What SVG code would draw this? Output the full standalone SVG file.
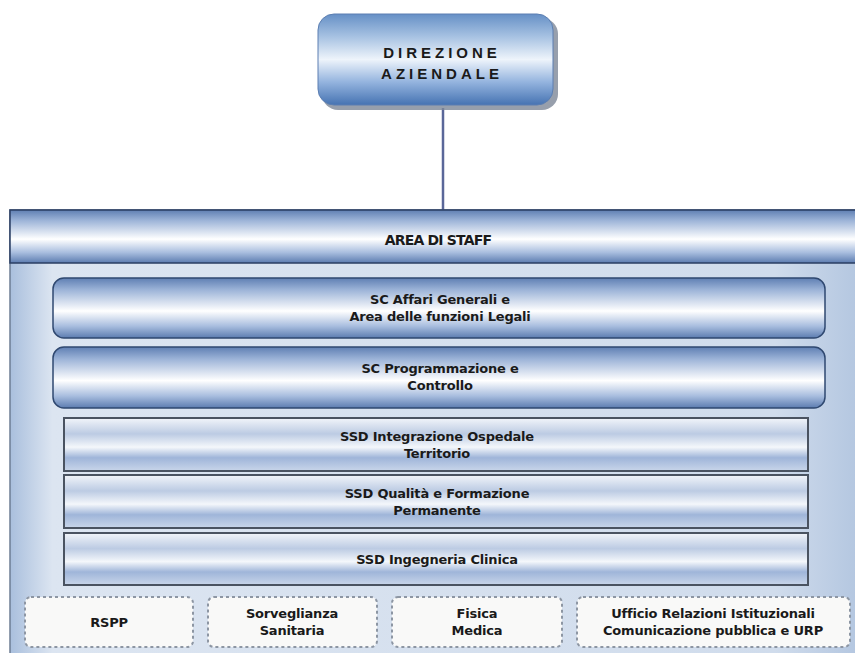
<svg xmlns="http://www.w3.org/2000/svg" width="855" height="653" viewBox="0 0 855 653">
<defs>
<linearGradient id="gShine" x1="0" y1="0" x2="0" y2="1">
<stop offset="0" stop-color="#5f7fb3"/>
<stop offset="0.2" stop-color="#9db4d8"/>
<stop offset="0.55" stop-color="#ffffff"/>
<stop offset="0.8" stop-color="#a9bedf"/>
<stop offset="1" stop-color="#5c7cb0"/>
</linearGradient>
<linearGradient id="gBand" x1="0" y1="0" x2="0" y2="1">
<stop offset="0" stop-color="#f2f5fa"/>
<stop offset="0.3" stop-color="#bccbe3"/>
<stop offset="0.55" stop-color="#f4f7fb"/>
<stop offset="0.75" stop-color="#9fb5d9"/>
<stop offset="1" stop-color="#c9d6ea"/>
</linearGradient>
<linearGradient id="gDir" x1="0" y1="0" x2="0" y2="1">
<stop offset="0" stop-color="#6690c6"/>
<stop offset="0.25" stop-color="#a7c2e2"/>
<stop offset="0.5" stop-color="#eef4fb"/>
<stop offset="0.75" stop-color="#93b3de"/>
<stop offset="1" stop-color="#4673b2"/>
</linearGradient>
<linearGradient id="gBody" x1="0" y1="0" x2="1" y2="0">
<stop offset="0" stop-color="#a9bfdd"/>
<stop offset="0.05" stop-color="#dce5f1"/>
<stop offset="0.9" stop-color="#d0dcec"/>
<stop offset="1" stop-color="#b3c6e0"/>
</linearGradient>
<style>
.t{font-family:"DejaVu Sans","Liberation Sans",Arial,sans-serif;font-weight:bold;fill:#1a1a1a;text-anchor:middle}
.s{font-size:13px;letter-spacing:-0.2px}
.dir{font-family:"Liberation Sans",Arial,sans-serif;font-size:15px;letter-spacing:4px}
.dash{fill:#f9f9f8;stroke:#8d96a3;stroke-width:2;stroke-dasharray:3 3}
.sq{stroke:#4a5361;stroke-width:2}
.rd{stroke:#2f4870;stroke-width:1.5}
</style>
</defs>
<g id="connectors">
<line x1="443" y1="108" x2="443" y2="210" stroke="#5a6799" stroke-width="2.5"/>
</g>
<g id="area-staff">
<rect x="10" y="210" width="850" height="450" fill="url(#gBody)" stroke="#6e7d94" stroke-width="1.5"/>
<rect x="10" y="210" width="850" height="53" fill="url(#gShine)" stroke="#2a3e63" stroke-width="1.5"/>
<text class="t" x="438" y="245" font-family="Liberation Sans, Arial, sans-serif" font-size="14" letter-spacing="-0.8">AREA DI STAFF</text>
</g>
<g id="direzione">
<rect x="322" y="18" width="236" height="92" rx="16" fill="#7d8797" opacity="0.8"/>
<rect x="318" y="14" width="235" height="91" rx="16" fill="url(#gDir)" stroke="#5c7fb2" stroke-width="1"/>
<text class="t dir" x="442" y="58">DIREZIONE</text>
<text class="t dir" x="442" y="79">AZIENDALE</text>
</g>
<g id="sc-affari">
<rect x="53" y="278" width="772" height="60" rx="11" fill="url(#gShine)" class="rd"/>
<text class="t s" x="440" y="304">SC Affari Generali e</text>
<text class="t s" x="440" y="321">Area delle funzioni Legali</text>
</g>
<g id="sc-programmazione">
<rect x="53" y="347" width="772" height="61" rx="11" fill="url(#gShine)" class="rd"/>
<text class="t s" x="440" y="373">SC Programmazione e</text>
<text class="t s" x="440" y="390">Controllo</text>
</g>
<g id="ssd-integrazione">
<rect x="64" y="418" width="744" height="53" fill="url(#gBand)" class="sq"/>
<text class="t s" x="437" y="441">SSD Integrazione Ospedale</text>
<text class="t s" x="437" y="458">Territorio</text>
</g>
<g id="ssd-qualita">
<rect x="64" y="475" width="744" height="53" fill="url(#gBand)" class="sq"/>
<text class="t s" x="437" y="498">SSD Qualità e Formazione</text>
<text class="t s" x="437" y="515">Permanente</text>
</g>
<g id="ssd-ingegneria">
<rect x="64" y="533" width="744" height="52" fill="url(#gBand)" class="sq"/>
<text class="t s" x="437" y="564">SSD Ingegneria Clinica</text>
</g>
<g id="rspp">
<rect x="25" y="597" width="168" height="50" rx="6" class="dash"/>
<text class="t s" x="109" y="627">RSPP</text>
</g>
<g id="sorveglianza">
<rect x="208" y="597" width="169" height="50" rx="6" class="dash"/>
<text class="t s" x="292" y="618">Sorveglianza</text>
<text class="t s" x="292" y="635">Sanitaria</text>
</g>
<g id="fisica">
<rect x="392" y="597" width="170" height="50" rx="6" class="dash"/>
<text class="t s" x="477" y="618">Fisica</text>
<text class="t s" x="477" y="635">Medica</text>
</g>
<g id="ufficio">
<rect x="577" y="597" width="273" height="50" rx="6" class="dash"/>
<text class="t s" x="713" y="618">Ufficio Relazioni Istituzionali</text>
<text class="t s" x="713" y="635">Comunicazione pubblica e URP</text>
</g>
</svg>
